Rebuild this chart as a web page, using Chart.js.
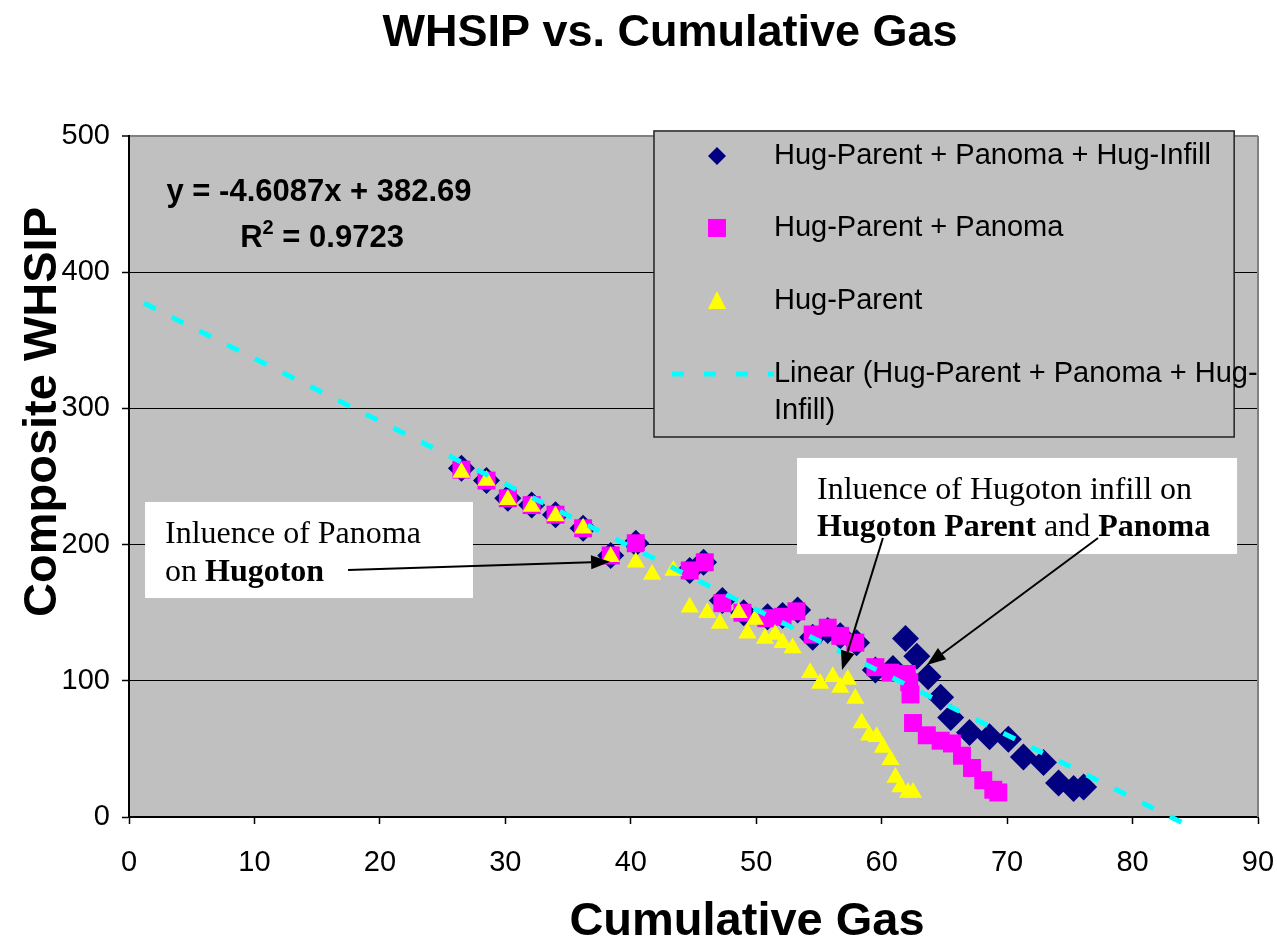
<!DOCTYPE html>
<html>
<head>
<meta charset="utf-8">
<script src="https://cdn.jsdelivr.net/npm/chart.js@4.4.1/dist/chart.umd.min.js"></script>
<style>
  html, body { margin: 0; padding: 0; background: #fff; }
</style>
</head>
<body>
<canvas id="chart" width="1277" height="944"></canvas>
<script>
// series
const infillName = "Hug-Parent + Panoma + Hug-Infill";
const panomaName = "Hug-Parent + Panoma";
const parentName = "Hug-Parent";
const trendName = "Linear (Hug-Parent + Panoma + Hug-Infill)";

const infillX = [26.5, 28.5, 30.2, 32.1, 34.0, 36.2, 38.4, 40.4, 44.7, 45.8, 47.3, 49.0, 50.9, 52.1, 53.3, 54.5, 55.7, 56.7, 58.0, 59.5, 60.9, 61.9, 62.8, 63.7, 64.7, 65.5, 67.0, 68.6, 70.1, 71.3, 72.9, 74.1, 75.3, 76.1];
const infillY = [256, 247, 234, 229, 222, 212, 192, 201, 181, 187, 159, 150, 147, 148, 152, 132, 137, 133, 128, 108, 109, 131, 118, 103, 88, 73, 62, 59, 57, 44, 40, 25, 21, 22];

const panomaX = [26.5, 28.5, 30.2, 32.1, 34.0, 36.2, 38.4, 40.4, 44.7, 45.9, 47.3, 48.9, 50.8, 52.1, 53.2, 54.5, 55.7, 56.7, 57.9, 59.5, 60.7, 62.0, 62.2, 62.3, 62.5, 63.6, 64.7, 65.6, 66.4, 67.2, 68.1, 68.9, 69.3];
const panomaY = [255, 247, 234, 229, 222, 212, 192, 201, 181, 187, 157, 150, 146, 147, 151, 134, 139, 133, 128, 110, 106, 105, 99, 90, 69, 60, 56, 54, 45, 36, 27, 20, 18];

const parentX = [26.5, 28.5, 30.2, 32.1, 34.0, 36.2, 38.4, 40.4, 41.7, 43.4, 44.7, 46.1, 47.1, 48.6, 49.3, 49.9, 50.7, 51.5, 52.1, 52.9, 54.3, 55.1, 56.1, 56.7, 57.3, 57.9, 58.4, 59.0, 59.6, 60.1, 60.7, 61.1, 61.5, 62.1, 62.5];
const parentY = [253, 247, 233, 228, 221, 212, 191, 187, 178, 181, 154, 150, 142, 150, 135, 145, 131, 134, 128, 124, 106, 98, 103, 95, 101, 87, 69, 60, 59, 51, 42, 29, 22, 18, 18];

const trendX = [1.2, 84.0];
const trendY = [377.2, -4.4];

const xTickValues = [0, 10, 20, 30, 40, 50, 60, 70, 80, 90];
const yTickValues = [0, 100, 200, 300, 400, 500];

const chartTitle = "WHSIP vs. Cumulative Gas";
const xTitle = "Cumulative Gas";
const yTitle = "Composite WHSIP";
const equationText = "y = -4.6087x + 382.69";
const r2Value = " = 0.9723";

const NAVY = "#000080", PINK = "#ff00ff", YELLOW = "#ffff00", CYAN = "#00ffff";
const SANS = "'Liberation Sans', Arial, sans-serif";
const SERIF = "'Liberation Serif', 'Times New Roman', serif";

function pts(xs, ys) {
  return xs.map((x, i) => ({ x: x, y: ys[i] }));
}

// text runs with mixed bold / normal
function drawRuns(ctx, runs, x, y, size) {
  ctx.textAlign = "left";
  ctx.textBaseline = "alphabetic";
  runs.forEach(r => {
    ctx.font = (r.b ? "bold " : "") + size + "px " + SERIF;
    ctx.fillText(r.t, x, y);
    x += ctx.measureText(r.t).width;
  });
}

function arrow(ctx, x1, y1, x2, y2) {
  const ang = Math.atan2(y2 - y1, x2 - x1);
  const len = 19, half = 7;
  const bx = x2 - Math.cos(ang) * len, by = y2 - Math.sin(ang) * len;
  ctx.strokeStyle = "#000";
  ctx.lineWidth = 2;
  ctx.beginPath();
  ctx.moveTo(x1, y1);
  ctx.lineTo(bx, by);
  ctx.stroke();
  ctx.fillStyle = "#000";
  ctx.beginPath();
  ctx.moveTo(x2, y2);
  ctx.lineTo(bx + Math.sin(ang) * half, by - Math.cos(ang) * half);
  ctx.lineTo(bx - Math.sin(ang) * half, by + Math.cos(ang) * half);
  ctx.closePath();
  ctx.fill();
}

// annotation boxes and arrows, placed in data units
const notes = [
  { box: [1.28, 231.3, 27.42, 160.8], x: 2.87, lines: [
      { y: 201.2, runs: [{ t: "Inluence of Panoma" }] },
      { y: 173.3, runs: [{ t: "on " }, { t: "Hugoton", b: true }] } ] },
  { box: [53.25, 263.6, 88.33, 193.1], x: 54.85, lines: [
      { y: 233.5, runs: [{ t: "Inluence of Hugoton infill on" }] },
      { y: 206.3, runs: [{ t: "Hugoton Parent", b: true }, { t: " and " }, { t: "Panoma", b: true }] } ] }
];
const arrows = [
  [17.46, 181.4, 38.35, 187.4],
  [60.1, 204.8, 56.84, 107.9],
  [77.25, 204.8, 63.6, 111.6]
];

const decor = {
  id: "decor",
  beforeDraw(chart) {
    const { ctx, chartArea: a } = chart;
    ctx.save();
    ctx.fillStyle = "#fff";
    ctx.fillRect(0, 0, chart.width, chart.height);
    ctx.fillStyle = "#c0c0c0";
    ctx.fillRect(a.left, a.top, a.right - a.left, a.bottom - a.top);
    ctx.restore();
  },
  beforeDatasetsDraw(chart) {
    const { ctx, chartArea: a } = chart;
    ctx.save();
    ctx.strokeStyle = "#808080";
    ctx.lineWidth = 2;
    ctx.beginPath();
    ctx.moveTo(a.right, a.top);
    ctx.lineTo(a.right, a.bottom);
    ctx.stroke();
    ctx.restore();
  },
  afterDatasetsDraw(chart) {
    const { ctx } = chart;
    const xs = chart.scales.x, ys = chart.scales.y;
    const px = v => xs.getPixelForValue(v), py = v => ys.getPixelForValue(v);
    ctx.save();

    // trendline equation
    ctx.fillStyle = "#000";
    ctx.font = "bold 31px " + SANS;
    ctx.textAlign = "center";
    ctx.textBaseline = "alphabetic";
    ctx.fillText(equationText, px(15.15), py(452.6));
    const w1 = ctx.measureText("R").width, w3 = ctx.measureText(r2Value).width;
    ctx.font = "bold 20px " + SANS;
    const w2 = ctx.measureText("2").width;
    let sx = px(15.39) - (w1 + w2 + w3) / 2;
    const sy = py(418.5);
    ctx.textAlign = "left";
    ctx.font = "bold 31px " + SANS;
    ctx.fillText("R", sx, sy);
    ctx.font = "bold 20px " + SANS;
    ctx.fillText("2", sx + w1, sy - 13);
    ctx.font = "bold 31px " + SANS;
    ctx.fillText(r2Value, sx + w1 + w2, sy);

    // text boxes
    notes.forEach(n => {
      const [x1, y1, x2, y2] = n.box;
      ctx.fillStyle = "#fff";
      ctx.fillRect(px(x1), py(y1), px(x2) - px(x1), py(y2) - py(y1));
      ctx.fillStyle = "#000";
      n.lines.forEach(l => drawRuns(ctx, l.runs, px(n.x), py(l.y), 32));
    });
    arrows.forEach(a => arrow(ctx, px(a[0]), py(a[1]), px(a[2]), py(a[3])));

    // legend
    const L = { left: px(41.85), top: py(503.7), right: px(88.1), bottom: py(279) };
    ctx.fillStyle = "#c0c0c0";
    ctx.fillRect(L.left, L.top, L.right - L.left, L.bottom - L.top);
    ctx.strokeStyle = "#222";
    ctx.lineWidth = 1.5;
    ctx.strokeRect(L.left, L.top, L.right - L.left, L.bottom - L.top);
    const symX = L.left + 63, txtX = L.left + 120;
    const rowY = [L.top + 25, L.top + 97, L.top + 170, L.top + 243];
    ctx.font = "29px " + SANS;
    ctx.textAlign = "left";
    ctx.textBaseline = "middle";
    ctx.fillStyle = "#000";
    ctx.fillText(infillName, txtX, rowY[0]);
    ctx.fillText(panomaName, txtX, rowY[1]);
    ctx.fillText(parentName, txtX, rowY[2]);
    ctx.fillText("Linear (Hug-Parent + Panoma + Hug-", txtX, rowY[3]);
    ctx.fillText("Infill)", txtX, rowY[3] + 37);
    // symbols
    ctx.fillStyle = NAVY;
    ctx.beginPath();
    ctx.moveTo(symX, rowY[0] - 9); ctx.lineTo(symX + 9, rowY[0]);
    ctx.lineTo(symX, rowY[0] + 9); ctx.lineTo(symX - 9, rowY[0]);
    ctx.closePath(); ctx.fill();
    ctx.fillStyle = PINK;
    ctx.fillRect(symX - 9, rowY[1] - 9, 18, 18);
    ctx.fillStyle = YELLOW;
    ctx.beginPath();
    ctx.moveTo(symX, rowY[2] - 10); ctx.lineTo(symX + 9, rowY[2] + 8);
    ctx.lineTo(symX - 9, rowY[2] + 8);
    ctx.closePath(); ctx.fill();
    ctx.strokeStyle = CYAN;
    ctx.lineWidth = 5;
    ctx.setLineDash([12, 20]);
    ctx.beginPath();
    ctx.moveTo(L.left + 18, rowY[3]);
    ctx.lineTo(txtX, rowY[3]);
    ctx.stroke();
    ctx.setLineDash([]);
    ctx.restore();
  },
  afterDraw(chart) {
    const { ctx } = chart;
    ctx.save();
    ctx.fillStyle = "#000";
    ctx.textAlign = "center";
    ctx.textBaseline = "alphabetic";
    ctx.font = "bold 45px " + SANS;
    ctx.fillText(chartTitle, 670, 46);
    ctx.font = "bold 47px " + SANS;
    ctx.fillText(xTitle, 747, 935);
    ctx.translate(56, 412);
    ctx.rotate(-Math.PI / 2);
    ctx.fillText(yTitle, 0, 0);
    ctx.restore();
  }
};

new Chart(document.getElementById("chart"), {
  type: "scatter",
  data: {
    datasets: [
      { label: trendName, data: pts(trendX, trendY), showLine: true, borderColor: CYAN,
        borderWidth: 5, borderDash: [13, 18], pointRadius: 0, fill: false, clip: false, order: 0 },
      { label: parentName, data: pts(parentX, parentY), pointStyle: "triangle", pointRadius: 10.5,
        backgroundColor: YELLOW, borderWidth: 0, order: 1 },
      { label: panomaName, data: pts(panomaX, panomaY), pointStyle: "rect", pointRadius: 12.7,
        backgroundColor: PINK, borderWidth: 0, order: 2 },
      { label: infillName, data: pts(infillX, infillY), pointStyle: "rectRot", pointRadius: 13.5,
        backgroundColor: NAVY, borderWidth: 0, order: 3 }
    ]
  },
  options: {
    responsive: false,
    animation: false,
    devicePixelRatio: 1,
    events: [],
    layout: { padding: { top: 136, right: 19, left: 0, bottom: 0 } },
    plugins: { legend: { display: false }, title: { display: false }, tooltip: { enabled: false } },
    scales: {
      x: {
        type: "linear", min: 0, max: 90,
        afterBuildTicks: s => { s.ticks = xTickValues.map(v => ({ value: v })); },
        afterFit: s => { s.height = 127; s.paddingRight = 0; s.paddingLeft = 0; },
        grid: { drawOnChartArea: false, tickLength: 7, tickColor: "#000", tickWidth: 1.5 },
        border: { color: "#000", width: 2 },
        ticks: { color: "#000", padding: 22, maxRotation: 0, font: { family: SANS, size: 29 } }
      },
      y: {
        type: "linear", min: 0, max: 500,
        afterBuildTicks: s => { s.ticks = yTickValues.map(v => ({ value: v })); },
        afterFit: s => { s.width = 129; s.paddingTop = 0; s.paddingBottom = 0; },
        grid: {
          color: c => c.tick.value === 500 ? "#808080" : (c.tick.value === 0 ? "rgba(0,0,0,0)" : "#000"),
          lineWidth: c => c.tick.value === 500 ? 2 : 1,
          tickLength: 7, tickColor: "#000", tickWidth: 1.5
        },
        border: { color: "#000", width: 2 },
        ticks: { color: "#000", padding: 12, font: { family: SANS, size: 29 } }
      }
    }
  },
  plugins: [decor]
});
</script>
</body>
</html>
